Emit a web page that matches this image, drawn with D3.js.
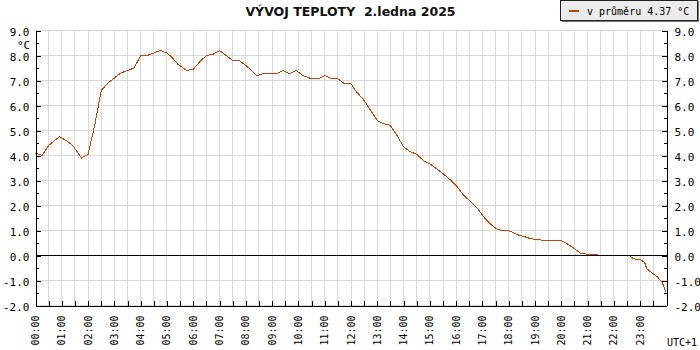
<!DOCTYPE html>
<html>
<head>
	<meta charset="utf-8">
	<title>Vývoj teploty</title>
	<style type="text/css">
body {
	margin: 0;
	background: #fff;
}
svg {
	display: block;
}
.grid line {
	stroke: #d9d9d9;
	shape-rendering: crispEdges;
}
.axis path,
.axis line {
	stroke: #000;
	shape-rendering: crispEdges;
}
.axis text,
.label {
	font: 11px "DejaVu Sans Mono", monospace;
	fill: #000;
}
.hour {
	font: 10px "DejaVu Sans Mono", monospace;
	fill: #000;
}
.title {
	font: bold 12.5px "DejaVu Sans", sans-serif;
	fill: #111;
	white-space: pre;
}
.temp {
	fill: none;
	stroke: #b8470d;
	stroke-width: 1px;
	shape-rendering: crispEdges;
}
.zero {
	stroke: #000;
	shape-rendering: crispEdges;
}
	</style>
</head>
<body>
	<div id="chart"></div>
	<script src="https://d3js.org/d3.v7.min.js"></script>
	<script type="text/javascript">

// readings (time of day, temperature in °C)
var times = ["00:00", "00:15", "00:30", "00:40", "00:55", "01:10", "01:25", "01:45",
	"02:00", "02:15", "02:30", "02:45", "03:00", "03:15", "03:30", "03:45",
	"04:00", "04:15", "04:30", "04:45", "05:00", "05:10", "05:25", "05:45",
	"06:00", "06:15", "06:30", "06:45", "07:00", "07:15", "07:30", "07:45",
	"08:00", "08:10", "08:25", "08:40", "09:10", "09:25", "09:40", "09:55",
	"10:10", "10:30", "10:45", "11:00", "11:15", "11:30", "11:45", "12:00",
	"12:10", "12:20", "12:30", "12:45", "13:00", "13:15", "13:30", "13:45",
	"14:00", "14:15", "14:30", "14:45", "15:00", "15:15", "15:30", "15:45",
	"16:00", "16:15", "16:30", "16:50", "17:05", "17:20", "17:35", "17:50",
	"18:05", "18:20", "18:35", "18:50", "19:10", "19:20", "20:00", "20:15",
	"20:30", "20:45", "21:20", "21:25", "22:35", "22:45", "23:00", "23:10",
	"23:15", "23:25", "23:40", "23:50", "23:59"];

var temps = [4.1, 4.0, 4.4, 4.55, 4.75, 4.6, 4.4, 3.9,
	4.05, 5.2, 6.6, 6.9, 7.1, 7.3, 7.4, 7.5,
	8.0, 8.0, 8.1, 8.2, 8.1, 7.95, 7.65, 7.4,
	7.45, 7.75, 8.0, 8.05, 8.2, 8.0, 7.8, 7.8,
	7.6, 7.45, 7.2, 7.27, 7.27, 7.4, 7.27, 7.4,
	7.2, 7.07, 7.07, 7.2, 7.07, 7.07, 6.87, 6.87,
	6.6, 6.4, 6.2, 5.8, 5.4, 5.27, 5.2, 4.8,
	4.35, 4.15, 4.05, 3.8, 3.67, 3.47, 3.27, 3.05,
	2.8, 2.45, 2.2, 1.85, 1.5, 1.23, 1.03, 1.0,
	0.97, 0.83, 0.76, 0.67, 0.63, 0.6, 0.6, 0.45,
	0.27, 0.07, 0.04, 0, 0, -0.13, -0.17, -0.27,
	-0.53, -0.67, -0.87, -1.07, -1.47];

var yTicks = [-2, -1, 0, 1, 2, 3, 4, 5, 6, 7, 8, 9];
var yMinor = [-1.5, -0.5, 0.5, 1.5, 2.5, 3.5, 4.5, 5.5, 6.5, 7.5, 8.5];

var hourLabels = ["00:00", "01:00", "02:00", "03:00", "04:00", "05:00", "06:00", "07:00",
	"08:00", "09:00", "10:00", "11:00", "12:00", "13:00", "14:00", "15:00",
	"16:00", "17:00", "18:00", "19:00", "20:00", "21:00", "22:00", "23:00"];

var title = "VÝVOJ TEPLOTY  2.ledna 2025",
	legendText = "v průměru 4.37 °C";

// sizes
var chart_width = 700,
	chart_height = 350,
	margin = {top: 30, right: 34, bottom: 45, left: 35},
	width = chart_width - margin.left - margin.right,
	height = chart_height - margin.top - margin.bottom;

function minutes(t) {
	var p = t.split(":");
	return +p[0] * 60 + +p[1];
}

var data = times.map(function(t, i) {
	return {m: minutes(t), v: temps[i]};
});

var svg = d3.select("#chart")
	.append("svg")
	.attr("width", chart_width)
	.attr("height", chart_height);

var g = svg.append("g")
	.attr("transform", "translate(" + (margin.left + 0.5) + "," + (margin.top + 0.5) + ")");

var x = d3.scaleLinear().domain([0, 1440]).range([0, width]);
var y = d3.scaleLinear().domain([-2, 9]).range([height, 0]);

var halfHours = d3.range(30, 1440, 30);

// ---------------- grid ----------------
var grid = g.append("g").attr("class", "grid");

grid.selectAll("line.h")
	.data(yTicks)
	.enter().append("line")
	.attr("x1", 0).attr("x2", width)
	.attr("y1", function(d) { return Math.round(y(d)); })
	.attr("y2", function(d) { return Math.round(y(d)); });

grid.selectAll("line.v")
	.data(halfHours)
	.enter().append("line")
	.attr("x1", function(d) { return Math.round(x(d)); })
	.attr("x2", function(d) { return Math.round(x(d)); })
	.attr("y1", 0).attr("y2", height);

// ---------------- line ----------------
var line = d3.line()
	.x(function(d) { return x(d.m); })
	.y(function(d) { return y(d.v); });

g.append("path")
	.datum(data)
	.attr("class", "temp")
	.attr("d", line);

g.append("line")
	.attr("class", "zero")
	.attr("x1", 0).attr("x2", width)
	.attr("y1", y(0)).attr("y2", y(0));

// ---------------- axes ----------------
var fmt = function(d) { return d.toFixed(1); };

g.append("g")
	.attr("class", "axis")
	.call(d3.axisLeft(y).tickValues(yTicks).tickSize(-5).tickSizeOuter(0).tickPadding(6).tickFormat(fmt))
	.selectAll("text").attr("dy", "0.45em");

g.append("g")
	.attr("class", "axis")
	.call(d3.axisLeft(y).tickValues(yMinor).tickSize(-3).tickFormat(""))
	.select(".domain").remove();

g.append("g")
	.attr("class", "axis")
	.attr("transform", "translate(" + width + ",0)")
	.call(d3.axisRight(y).tickValues(yTicks).tickSize(-5).tickSizeOuter(0).tickPadding(8).tickFormat(fmt))
	.selectAll("text").attr("dy", "0.45em");

g.append("g")
	.attr("class", "axis")
	.attr("transform", "translate(" + width + ",0)")
	.call(d3.axisRight(y).tickValues(yMinor).tickSize(-3).tickFormat(""))
	.select(".domain").remove();

g.append("g")
	.attr("class", "axis")
	.attr("transform", "translate(0," + height + ")")
	.call(d3.axisBottom(x).tickValues(halfHours).tickSize(-5).tickSizeOuter(0).tickFormat(""));

// hour labels, rotated
g.selectAll("text.hour")
	.data(hourLabels)
	.enter().append("text")
	.attr("class", "hour")
	.attr("text-anchor", "end")
	.attr("dy", "0.35em")
	.attr("transform", function(d) {
		return "translate(" + x(minutes(d)) + "," + (height + 10) + ") rotate(-90)";
	})
	.text(function(d) { return d; });

// ---------------- texts ----------------
svg.append("text")
	.attr("class", "title")
	.attr("x", margin.left + width / 2)
	.attr("y", 16)
	.attr("text-anchor", "middle")
	.text(title);

svg.append("text")
	.attr("class", "label")
	.attr("x", 17)
	.attr("y", 49)
	.text("°C");

svg.append("text")
	.attr("class", "hour")
	.attr("x", 667)
	.attr("y", 346)
	.text("UTC+1");

// legend
var legend = svg.append("g");

legend.append("rect")
	.attr("x", 562).attr("y", 1)
	.attr("width", 137).attr("height", 21)
	.attr("fill", "#777");

legend.append("rect")
	.attr("x", 560.5).attr("y", 0.5)
	.attr("width", 137).attr("height", 20)
	.attr("fill", "#ebebeb")
	.attr("stroke", "#222");

legend.append("line")
	.attr("x1", 569).attr("x2", 579)
	.attr("y1", 11).attr("y2", 11)
	.attr("stroke", "#b8470d")
	.attr("stroke-width", 2);

legend.append("text")
	.attr("class", "hour")
	.attr("x", 587)
	.attr("y", 15)
	.text(legendText);

	</script>
</body>
</html>
